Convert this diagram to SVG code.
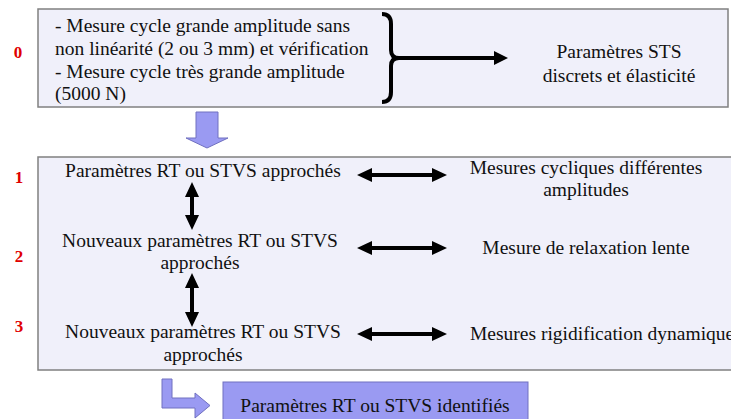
<svg xmlns="http://www.w3.org/2000/svg" width="731" height="419" viewBox="0 0 731 419">
<style>
.t{font-family:"Liberation Serif","Times New Roman",serif;font-size:19.5px;fill:#111}
.c{text-anchor:middle}
.n{font-family:"Liberation Serif","Times New Roman",serif;font-size:17px;font-weight:bold;fill:#e00000;text-anchor:middle}
.box{fill:#f0f0fa;stroke:#808080;stroke-width:1.5}
.blk{fill:#9a9af2;stroke:#7070c0;stroke-width:1}
.ln{stroke:#000;stroke-width:4;fill:none}
.hd{fill:#000}
</style>
<rect width="731" height="419" fill="#fff"/>
<g id="labels">
<text class="n" x="18" y="58">0</text>
<text class="n" x="19" y="183">1</text>
<text class="n" x="19" y="262">2</text>
<text class="n" x="19" y="332">3</text>
</g>
<g id="step0">
<rect class="box" x="38" y="9" width="690" height="98"/>
<text class="t" x="55" y="32">- Mesure cycle grande amplitude sans</text>
<text class="t" x="55" y="55">non linéarité (2 ou 3 mm) et vérification</text>
<text class="t" x="55" y="78">- Mesure cycle très grande amplitude</text>
<text class="t" x="55" y="100">(5000 N)</text>
<text class="t c" x="619" y="58">Paramètres STS</text>
<text class="t c" x="619" y="82">discrets et élasticité</text>
</g>
<g id="main">
<rect class="box" x="38" y="157" width="710" height="213"/>
</g>
<g id="n1"><text class="t c" x="203" y="177">Paramètres RT ou STVS approchés</text></g>
<g id="r1"><text class="t c" x="586" y="174">Mesures cycliques différentes</text><text class="t c" x="586" y="196">amplitudes</text></g>
<g id="n2"><text class="t c" x="200" y="247">Nouveaux paramètres RT ou STVS</text><text class="t c" x="200" y="269">approchés</text></g>
<g id="r2"><text class="t c" x="586" y="254">Mesure de relaxation lente</text></g>
<g id="n3"><text class="t c" x="203" y="338">Nouveaux paramètres RT ou STVS</text><text class="t c" x="203" y="361">approchés</text></g>
<g id="r3"><text class="t" x="470" y="340">Mesures rigidification dynamique</text></g>
<g id="result">
<rect class="blk" x="223" y="382" width="305" height="45" fill="#9999ff"/>
<text class="t c" x="375" y="412">Paramètres RT ou STVS identifiés</text>
</g>
<g id="connectors">
<path class="ln" d="M382,14 Q391,14 391,24 L391,50 Q391,58 399,58 Q391,58 391,66 L391,92 Q391,102 382,102"/>
<line class="ln" x1="398" y1="58" x2="496" y2="58"/>
<polygon class="hd" points="494,51 508,58 494,65"/>
<polygon class="blk" points="196,112 218,112 218,138 228,138 207,148 186,138 196,138"/>
<line class="ln" x1="370" y1="175" x2="434" y2="175"/>
<polygon class="hd" points="357,175 372,168 372,182"/>
<polygon class="hd" points="447,175 432,168 432,182"/>
<line class="ln" x1="370" y1="248" x2="434" y2="248"/>
<polygon class="hd" points="357,248 372,241 372,255"/>
<polygon class="hd" points="447,248 432,241 432,255"/>
<line class="ln" x1="370" y1="334" x2="434" y2="334"/>
<polygon class="hd" points="357,334 372,327 372,341"/>
<polygon class="hd" points="447,334 432,327 432,341"/>
<line class="ln" x1="192" y1="194" x2="192" y2="218"/>
<polygon class="hd" points="192,182 185,197 199,197"/>
<polygon class="hd" points="192,230 185,215 199,215"/>
<line class="ln" x1="192" y1="285" x2="192" y2="315"/>
<polygon class="hd" points="192,273 185,288 199,288"/>
<polygon class="hd" points="192,327 185,312 199,312"/>
<polygon class="blk" points="162,379 172,379 172,398 195,398 195,393 210,405.5 195,418 195,408 162,408"/>
</g>
</svg>
